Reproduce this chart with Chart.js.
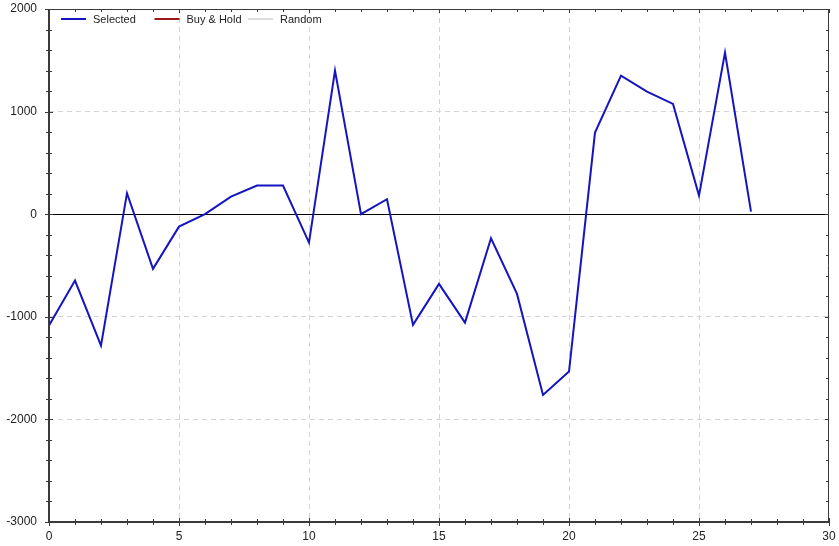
<!DOCTYPE html>
<html><head><meta charset="utf-8">
<script src="https://cdn.jsdelivr.net/npm/chart.js@4/dist/chart.umd.min.js"></script>
<style>html,body{margin:0;padding:0;background:#fff}#wrap{width:839px;height:546px;position:relative}</style>
</head><body><div id="wrap"><canvas id="c" width="839" height="546"></canvas></div>
<script>
const periods = [0,1,2,3,4,5,6,7,8,9,10,11,12,13,14,15,16,17,18,19,20,21,22,23,24,25,26,27];
const selectedValues = [-1086,-647,-1281,205,-533,-121,0,172,279,279,-277,1400,0,146,-1079,-679,-1057,-234,-777,-1761,-1534,795,1351,1195,1075,181,1575,25];
const buyHoldValues = [];
const randomValues = [];
const seriesNames = ['Selected','Buy & Hold','Random'];
const xTickLabels = ['0','5','10','15','20','25','30'];
const yTickLabels = ['-3000','-2000','-1000','0','1000','2000'];

const FONT = 'Liberation Sans, Arial, sans-serif';

const framePlugin = {
  id:'frame',
  beforeDatasetsDraw(chart){
    const {ctx, chartArea:a, scales:{x,y}} = chart;
    ctx.save();
    ctx.strokeStyle='#000'; ctx.lineWidth=1;
    const y0 = Math.round(y.getPixelForValue(0))+0.5;
    ctx.beginPath(); ctx.moveTo(a.left,y0); ctx.lineTo(a.right,y0); ctx.stroke();
    ctx.restore();
  },
  afterDatasetsDraw(chart){
    const {ctx, chartArea:a, scales:{x,y}} = chart;
    ctx.save();
    ctx.strokeStyle='#3a3a3a';
    ctx.lineWidth=1;
    ctx.beginPath();
    ctx.moveTo(a.left, a.top+0.5); ctx.lineTo(a.right, a.top+0.5);
    ctx.moveTo(a.right-0.5, a.top); ctx.lineTo(a.right-0.5, a.bottom);
    ctx.stroke();
    ctx.lineWidth=2;
    ctx.beginPath();
    ctx.moveTo(a.left, a.top); ctx.lineTo(a.left, a.bottom+1);
    ctx.moveTo(a.left-1, a.bottom); ctx.lineTo(a.right, a.bottom);
    ctx.stroke();
    ctx.lineWidth=1;
    ctx.beginPath();
    x.ticks.forEach(t=>{
      const px = Math.round(x.getPixelForValue(t.value))+0.5;
      const major = t.value % 5 === 0;
      const L = major?4:3;
      ctx.moveTo(px, a.bottom-L); ctx.lineTo(px, a.bottom+L);
      ctx.moveTo(px, a.top); ctx.lineTo(px, a.top+L);
    });
    y.ticks.forEach(t=>{
      const py = Math.round(y.getPixelForValue(t.value))+0.5;
      const major = t.value % 1000 === 0;
      const L = major?4:3;
      ctx.moveTo(a.left-L, py); ctx.lineTo(a.left+L, py);
      ctx.moveTo(a.right-L, py); ctx.lineTo(a.right, py);
    });
    ctx.stroke();
    ctx.restore();
  },
  afterDraw(chart){
    const {ctx, chartArea:a} = chart;
    ctx.save();
    ctx.font = '11px '+FONT;
    ctx.textBaseline='middle';
    const ly = a.top + 10;
    chart.data.datasets.forEach((ds,i)=>{
      const lx = a.left + 12 + i*93.5;
      ctx.strokeStyle = ds.borderColor; ctx.lineWidth = 2;
      ctx.beginPath(); ctx.moveTo(lx, ly); ctx.lineTo(lx+25, ly); ctx.stroke();
      ctx.fillStyle = '#222';
      ctx.fillText(ds.label, lx+32, ly+1);
    });
    ctx.restore();
  }
};

new Chart(document.getElementById('c'), {
  type:'line',
  data:{
    datasets:[
      {label:seriesNames[0], data:periods.map((p,i)=>({x:p,y:selectedValues[i]})), borderColor:'#1414c0', borderWidth:2, pointRadius:0, tension:0, fill:false},
      {label:seriesNames[1], data:buyHoldValues, borderColor:'#9a1a1a', borderWidth:2, pointRadius:0},
      {label:seriesNames[2], data:randomValues, borderColor:'#dcdcdc', borderWidth:2, pointRadius:0}
    ]
  },
  options:{
    responsive:false, animation:false,
    layout:{padding:{top:9,right:10,left:0,bottom:0}},
    plugins:{legend:{display:false}, tooltip:{enabled:false}},
    scales:{
      x:{type:'linear', min:0, max:30,
        ticks:{stepSize:1, autoSkip:false, maxRotation:0, padding:7, color:'#222', font:{family:FONT,size:12},
          callback:(v)=> xTickLabels.includes(String(v)) ? String(v) : ''},
        grid:{drawTicks:false, color:(c)=> (c.tick && c.tick.value%5===0 && c.tick.value>0 && c.tick.value<30) ? '#d4d4d4' : 'rgba(0,0,0,0)', lineWidth:1},
        border:{display:false, dash:[5,4]},
        afterFit:(s)=>{s.height=24; s.paddingLeft=0; s.paddingRight=0;}
      },
      y:{type:'linear', min:-3000, max:2000,
        ticks:{stepSize:200, autoSkip:false, padding:12, color:'#222', font:{family:FONT,size:12},
          callback:(v)=> yTickLabels.includes(String(v)) ? String(v) : ''},
        grid:{drawTicks:false, color:(c)=> (c.tick && c.tick.value%1000===0 && c.tick.value>-3000 && c.tick.value<2000 && c.tick.value!==0) ? '#d4d4d4' : 'rgba(0,0,0,0)', lineWidth:1},
        border:{display:false, dash:[5,4]},
        afterFit:(s)=>{s.width=49; s.paddingTop=0; s.paddingBottom=0;}
      }
    }
  },
  plugins:[framePlugin]
});
</script></body></html>
